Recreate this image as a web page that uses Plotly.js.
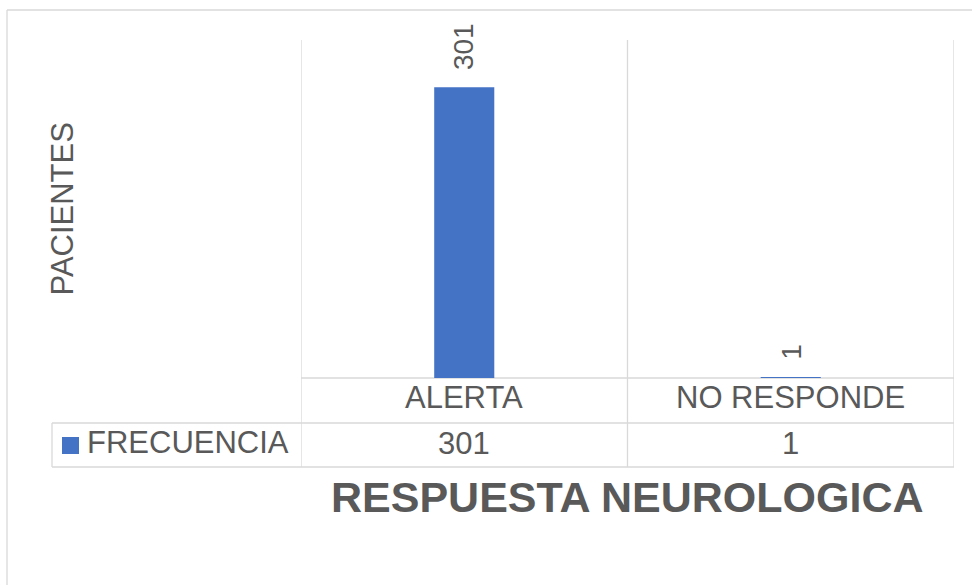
<!DOCTYPE html>
<html>
<head>
<meta charset="utf-8">
<script src="https://cdn.plot.ly/plotly-3.0.1.min.js"></script>
<style>html,body{margin:0;padding:0;background:#fff;}#chart{width:972px;height:585px;}</style>
</head>
<body>
<div id="chart"></div>
<script>
// Data
const categories = ["ALERTA", "NO RESPONDE"];
const seriesName = "FRECUENCIA";
const frecuencia = [301, 1];
const chartTitle = "RESPUESTA NEUROLOGICA";
const yTitle = "PACIENTES";

const FONT = "Liberation Sans, Arial, sans-serif";
const TXT = "#595959";
const GRID = "#d9d9d9";

// paper-coordinate helpers (plot area: x 301..954, y 40..378)
const L = 301, R = 954, T = 40, B = 378;
const px = (x) => (x - L) / (R - L);
const py = (y) => (B - y) / (B - T);

const trace = {
  type: "bar",
  x: categories,
  y: frecuencia,
  name: seriesName,
  marker: {color: "#4472C4"},
  width: 0.184,
  showlegend: false,
  hoverinfo: "none"
};

const shapes = [];
const line = (x0, y0, x1, y1, xref, yref) => shapes.push({
  type: "line", xref: xref || "paper", yref: yref || "paper",
  x0, y0, x1, y1, line: {color: GRID, width: 1.3}, layer: "below"
});
// category boundaries (plot + table columns)
[-0.5, 0.5, 1.5].forEach(b => line(b, py(467), b, 1, "x", "paper"));
// table horizontal lines
line(px(L), 0, px(R), 0);
line(px(52), py(423), px(R), py(423));
line(px(52), py(467), px(R), py(467));
line(px(52), py(423), px(52), py(467));
// outer chart frame
line(px(7), py(10), px(972), py(10));
line(px(7), py(10), px(7), py(585));
// legend swatch
shapes.push({type: "rect", xref: "paper", yref: "paper",
  x0: px(62), x1: px(79), y0: py(437), y1: py(454),
  fillcolor: "#4472C4", line: {width: 0}});

const annotations = [];
categories.forEach((c, i) => {
  // data labels
  annotations.push({x: c, y: frecuencia[i], xref: "x", yref: "y",
    text: String(frecuencia[i]), textangle: -90, showarrow: false,
    yanchor: "bottom", xanchor: "center", yshift: 15,
    font: {family: FONT, size: 28, color: TXT}});
  // category row
  annotations.push({x: c, y: py(397.5), xref: "x", yref: "paper",
    text: c, showarrow: false, yanchor: "middle", xanchor: "center",
    font: {family: FONT, size: 31, color: TXT}});
  // data row
  annotations.push({x: c, y: py(443.5), xref: "x", yref: "paper",
    text: String(frecuencia[i]), showarrow: false, yanchor: "middle", xanchor: "center",
    font: {family: FONT, size: 31, color: TXT}});
});
// legend text
annotations.push({x: px(85), y: py(442.5), xref: "paper", yref: "paper",
  text: seriesName, showarrow: false, xanchor: "left", yanchor: "middle",
  font: {family: FONT, size: 31, color: TXT}});
// axis title
annotations.push({x: px(61.5), y: py(209), xref: "paper", yref: "paper",
  text: yTitle, textangle: -90, showarrow: false, xanchor: "center", yanchor: "middle",
  font: {family: FONT, size: 31, color: TXT}});
// chart title (bottom)
annotations.push({x: 0.5, y: py(497), xref: "paper", yref: "paper",
  text: "<b>" + chartTitle + "</b>", showarrow: false, yanchor: "middle", xanchor: "center",
  font: {family: FONT, size: 43, color: TXT}});

const layout = {
  width: 972, height: 585,
  margin: {l: L, r: 972 - R, t: T, b: 585 - B, pad: 0},
  paper_bgcolor: "#fff", plot_bgcolor: "#fff",
  xaxis: {type: "category", range: [-0.5, 1.5], showgrid: false, zeroline: false,
    showticklabels: false, ticks: "", showline: false, fixedrange: true},
  yaxis: {range: [0, 350], showgrid: false, zeroline: false, showticklabels: false,
    ticks: "", showline: false, fixedrange: true},
  shapes, annotations,
  showlegend: false
};

Plotly.newPlot("chart", [trace], layout, {staticPlot: true, displayModeBar: false});
</script>
</body>
</html>
